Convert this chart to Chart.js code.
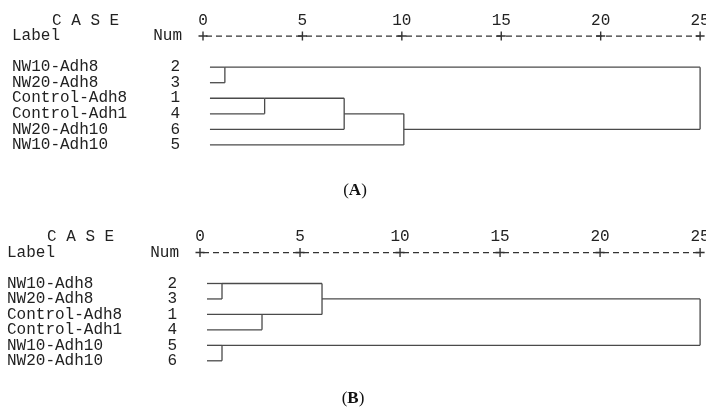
<!DOCTYPE html>
<html lang="en">
<head>
<meta charset="UTF-8">
<title>Dendrograms</title>
<script src="https://cdn.jsdelivr.net/npm/chart.js@4.4.1/dist/chart.umd.min.js"></script>
<style>
  body { margin: 0; background: #fff; }
  .panel { position: absolute; left: 0; width: 706px; }
  .caption { position: absolute; width: 706px; text-align: center; font-family: "Liberation Serif", "DejaVu Serif", serif; font-size: 17px; color: #111; line-height: 1; }
</style>
</head>
<body>

<div class="panel" style="top:0; height:205px;"><canvas id="chartA"></canvas></div>
<div class="caption" style="top:181px; left:2px;">(<b>A</b>)</div>
<div class="panel" style="top:205px; height:206px;"><canvas id="chartB"></canvas></div>
<div class="caption" style="top:389px; left:0px;">(<b>B</b>)</div>

<script>
// rescaled distance axis
var axisTicks = [0, 5, 10, 15, 20, 25];
var leafStart = 0.35;

// panel A
var labelsA = ['NW10-Adh8', 'NW20-Adh8', 'Control-Adh8', 'Control-Adh1', 'NW20-Adh10', 'NW10-Adh10'];
var numsA = [2, 3, 1, 4, 6, 5];
// [row of cluster, row of cluster, rescaled distance]
var mergesA = [[0, 1, 1.1], [2, 3, 3.1], [2, 4, 7.1], [3, 5, 10.1], [0, 4, 25]];

// panel B
var labelsB = ['NW10-Adh8', 'NW20-Adh8', 'Control-Adh8', 'Control-Adh1', 'NW10-Adh10', 'NW20-Adh10'];
var numsB = [2, 3, 1, 4, 5, 6];
var mergesB = [[0, 1, 1.1], [2, 3, 3.1], [0, 2, 6.1], [4, 5, 1.1], [1, 4, 25]];

var lineColor = '#4a4a4a';
var textColor = '#222';
var mono = '16px "Liberation Mono", "DejaVu Sans Mono", monospace';

// turn merges into line segments (SPSS style tree)
function treeSegments(n, merges) {
  var start = [];
  for (var i = 0; i < n; i++) start[i] = leafStart;
  var segs = [];
  merges.forEach(function (m) {
    var a = m[0], b = m[1], d = m[2];
    segs.push([{x: start[a], y: a}, {x: d, y: a}]);
    segs.push([{x: start[b], y: b}, {x: d, y: b}]);
    segs.push([{x: d, y: a}, {x: d, y: b}]);
    start[Math.floor((a + b) / 2)] = d;
  });
  return segs;
}

function makePanel(id, labels, nums, merges, o) {
  var datasets = treeSegments(labels.length, merges).map(function (s) {
    return { data: s, borderColor: lineColor, borderWidth: 1.3, pointRadius: 0, clip: false };
  });
  // dashed axis with + marks
  datasets.push({
    data: [{x: axisTicks[0], y: -2}, {x: axisTicks[axisTicks.length - 1], y: -2}],
    borderColor: '#333', borderWidth: 1.3, borderDash: [6, 4], borderDashOffset: -3, pointRadius: 0, clip: false
  });
  datasets.push({
    data: axisTicks.map(function (t) { return {x: t, y: -2}; }),
    showLine: false, pointStyle: 'cross', pointRadius: 4.5, pointBorderWidth: 1.4,
    pointBorderColor: '#333', clip: false
  });

  var textPlugin = {
    id: 'texts',
    afterDraw: function (chart) {
      var ctx = chart.ctx, xs = chart.scales.x, ys = chart.scales.y;
      ctx.save();
      ctx.font = mono;
      ctx.fillStyle = textColor;
      ctx.textBaseline = 'middle';
      ctx.textAlign = 'center';
      axisTicks.forEach(function (t) {
        ctx.fillText(String(t), xs.getPixelForValue(t), ys.getPixelForValue(-3));
      });
      ctx.textAlign = 'left';
      ctx.fillText('C A S E', o.textLeft + 40, ys.getPixelForValue(-3));
      ctx.fillText('Label', o.textLeft, ys.getPixelForValue(-2));
      labels.forEach(function (l, i) {
        ctx.fillText(l, o.textLeft, ys.getPixelForValue(i));
      });
      ctx.textAlign = 'right';
      ctx.fillText('Num', o.numRight + 2, ys.getPixelForValue(-2));
      nums.forEach(function (v, i) {
        ctx.fillText(String(v), o.numRight, ys.getPixelForValue(i));
      });
      ctx.restore();
    }
  };

  return new Chart(document.getElementById(id).getContext('2d'), {
    type: 'line',
    data: { datasets: datasets },
    options: {
      responsive: true,
      maintainAspectRatio: false,
      devicePixelRatio: 1,
      animation: false,
      events: [],
      layout: { padding: { left: o.left, right: o.right, top: 0, bottom: 0 } },
      scales: {
        x: { type: 'linear', display: false, min: 0, max: 25 },
        y: { type: 'linear', display: false, reverse: true,
             min: -o.row0 / o.step, max: (o.height - o.row0) / o.step }
      },
      plugins: { legend: { display: false }, tooltip: { enabled: false } }
    },
    plugins: [textPlugin]
  });
}

var chartA = makePanel('chartA', labelsA, numsA, mergesA,
  { left: 203, right: 3, row0: 65, step: 16.5, height: 205, textLeft: 12, numRight: 180 });
var chartB = makePanel('chartB', labelsB, numsB, mergesB,
  { left: 200, right: 3, row0: 77, step: 16.4, height: 206, textLeft: 7, numRight: 177 });
</script>
</body>
</html>
